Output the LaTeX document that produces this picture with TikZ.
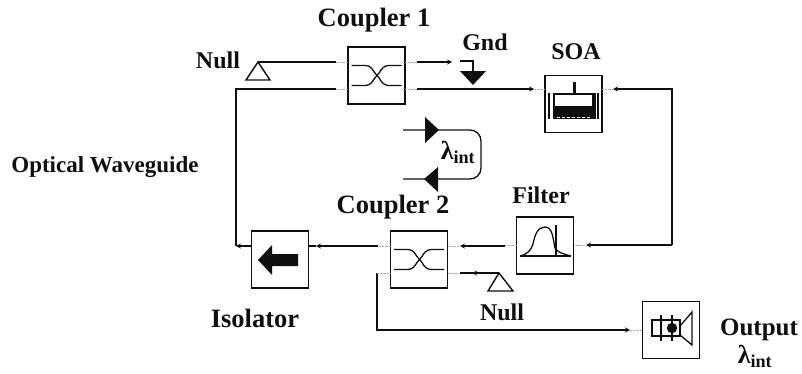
\documentclass[tikz,border=0pt]{standalone}
\usepackage{fontspec}
\setmainfont{Liberation Serif}
\usetikzlibrary{arrows.meta,positioning,calc}
\definecolor{wireclr}{RGB}{15,15,15}
\definecolor{stubclr}{RGB}{170,170,170}
\tikzset{
  devbox/.style={rectangle,draw=wireclr,fill=white,line width=1.8pt,
    minimum size=57pt,inner sep=0pt,outer sep=0pt},
  lbl/.style={font=\fontsize{24}{26}\selectfont\bfseries,text=wireclr,
    inner sep=0pt,align=center},
  biglbl/.style={lbl,font=\fontsize{26.5}{28}\selectfont\bfseries},
  lamlbl/.style={lbl,font=\fontsize{26}{28}\selectfont\bfseries},
  wire/.style={line width=1.3pt,color=wireclr},
  arr/.style={wire,-{Stealth[length=5pt,width=5pt]}},
  stub/.style={densely dotted,thin,color=stubclr},
  termtri/.style={draw=wireclr,line width=1.4pt,fill=white,line join=miter},
  blktri/.style={fill=wireclr,draw=none},
  cplr/.pic={
    \draw[wire] (-25,-10) -- (-11,-10) .. controls (-6,-10) and (-4,-6) .. (-2,-3) -- (3,3) .. controls (5,7) and (8,10) .. (12,10) -- (25,10);
    \draw[wire] (-25,10) -- (-11,10) .. controls (-6,10) and (-4,6) .. (-2,3) -- (3,-3) .. controls (5,-7) and (8,-10) .. (12,-10) -- (25,-10);
  },
}
\begin{document}
\begin{tikzpicture}[x=1pt,y=-1pt]
  \useasboundingbox (0,0) rectangle (802,373);
  \node[devbox] (cplA) at (376.5,75.5) {};
  \node[devbox,right=140pt of cplA,yshift=-28.5pt] (soa) {};
  \node[devbox,below=127pt of cplA,xshift=42.5pt] (cplB) {};
  \node[devbox,right=69pt of cplB,yshift=14pt] (flt) {};
  \node[devbox,left=82pt of cplB] (iso) {};
  \node[devbox,right=69pt of flt,yshift=-84.5pt] (out) {};

  \pic at (cplA) {cplr};
  \pic at (cplB) {cplr};

  \fill[wireclr] (258,260) -- (272,245) -- (272,254) -- (298,254) -- (298,266) -- (272,266) -- (272,275) -- cycle;

  \fill[wireclr] (572.5,82) rectangle (575.5,93);
  \fill[wireclr] (553,93) rectangle (596,119);
  \fill[white] (555,95) rectangle (592,106);
  \draw[white,densely dashed,thin] (557,117) -- (592,117);
  \draw[wire] (549,93) -- (549,119);
  \draw[wire] (598,93) -- (598,119);

  \draw[wire] (520,256) -- (571,256);
  \draw[wire] (520,256) .. controls (528,254) and (531,250) .. (533,244) .. controls (535,234) and (538,227) .. (545,227) .. controls (553,227) and (553,240) .. (555,248) .. controls (557,252) and (563,254) .. (571,256);
  \draw[wire] (556,225) -- (556,256);

  \draw[wire] (652,320) rectangle (680,336);
  \draw[wire] (680,326) -- (692,312) -- (692,345) -- (680,335);
  \draw[wire,fill=wireclr] (672,328) circle (4.5);
  \draw[wire] (661,315) -- (661,341);
  \draw[wire] (672,315) -- (672,341);

  \coordinate (nullA) at (258,62);
  \coordinate (gndTop) at (460,61);
  \coordinate (gndIn) at (473,61);
  \coordinate (gndOut) at (473,72);
  \coordinate (nullB) at (499,273);
  \coordinate (cornerTL) at (236,89);
  \coordinate (cornerBL) at (236,246);
  \coordinate (cornerTR) at (672,89);
  \coordinate (cornerBR) at (672,245);
  \coordinate (cornerOut) at (377,330);
  \coordinate (outStart) at (377,273);
  \coordinate (isoMark) at (316,246);
  \coordinate (nullMark) at (472,273);

  \draw[termtri] (nullA) -- (270,80) -- (246,80) -- cycle;
  \draw[wire] (nullA) -- (336,62);
  \draw[stub] (336,62) -- (cplA.west |- nullA);
  \draw[wire] (cornerBL) -- (cornerTL) -- (336,89);
  \draw[stub] (336,89) -- (cplA.west |- cornerTL);
  \draw[stub] (cplA.east |- nullA) -- (417,62);
  \draw[arr] (417,62) -- (452,62);
  \draw[stub] (cplA.east |- cornerTL) -- (417,89);
  \draw[arr] (417,89) -- (534,89);
  \draw[stub] (534,89) -- (soa.west |- cornerTL);

  \draw[wire] (gndTop) -- (gndIn) -- (gndOut);
  \fill[blktri] (460,71) -- (486,71) -- (473,85) -- cycle;

  \draw[stub] (soa.east |- cornerTR) -- (613,89);
  \draw[arr] (cornerBR) -- (cornerTR) -- (613,89);
  \draw[arr] (cornerTR |- cornerBR) -- (586,245);
  \draw[stub] (586,245) -- (flt.east |- cornerBR);
  \draw[stub] (flt.west |- cornerBR) -- (505,245);
  \draw[arr] (505,246) -- (460,246);
  \draw[stub] (460,246) -- (cplB.east |- cornerBL);
  \draw[stub] (cplB.west |- cornerBL) -- (378,246);
  \draw[arr] (378,246) -- (isoMark);
  \draw[wire] (isoMark) -- (iso.east |- isoMark);
  \draw[arr] (iso.west |- cornerBL) -- (cornerBL);

  \draw[stub] (cplB.east |- nullB) -- (460,273);
  \draw[wire] (nullB) -- (460,273);
  \draw[arr] (nullB) -- (nullMark);
  \draw[termtri] (nullB) -- (513,291) -- (488,291) -- cycle;

  \draw[arr] (outStart) -- (cornerOut) -- (630,330);
  \draw[stub] (630,330) -- (out.west);
  \draw[stub] (outStart) -- (cplB.west |- outStart);

  \draw[wire,rounded corners=11pt] (403,130) -- (481,130) -- (481,179) -- (403,179);
  \fill[blktri] (425,117) -- (439,130) -- (425,143) -- cycle;
  \fill[blktri] (438,167) -- (424,179) -- (438,192) -- cycle;

  \node[biglbl] (lblCplA) at (374,20) {Coupler 1};
  \node[lbl] (lblNullA) at (218,60) {Null};
  \node[lbl] (lblGnd) at (485,42) {Gnd};
  \node[lbl] (lblSoa) at (576,52) {SOA};
  \node[lbl,font=\fontsize{23}{25}\selectfont\bfseries] (lblWg) at (105,167) {Optical Waveguide};
  \node[lamlbl] (lblLamA) at (458,152) {λ\textsubscript{int}};
  \node[biglbl] (lblCplB) at (393,207) {Coupler 2};
  \node[lbl] (lblFlt) at (541,195) {Filter};
  \node[biglbl] (lblIso) at (255,318) {Isolator};
  \node[lbl] (lblNullB) at (502,312) {Null};
  \node[lbl,font=\fontsize{25}{27}\selectfont\bfseries] (lblOut) at (759,330) {Output};
  \node[lamlbl] (lblLamB) at (755,356) {λ\textsubscript{int}};
\end{tikzpicture}
\end{document}
